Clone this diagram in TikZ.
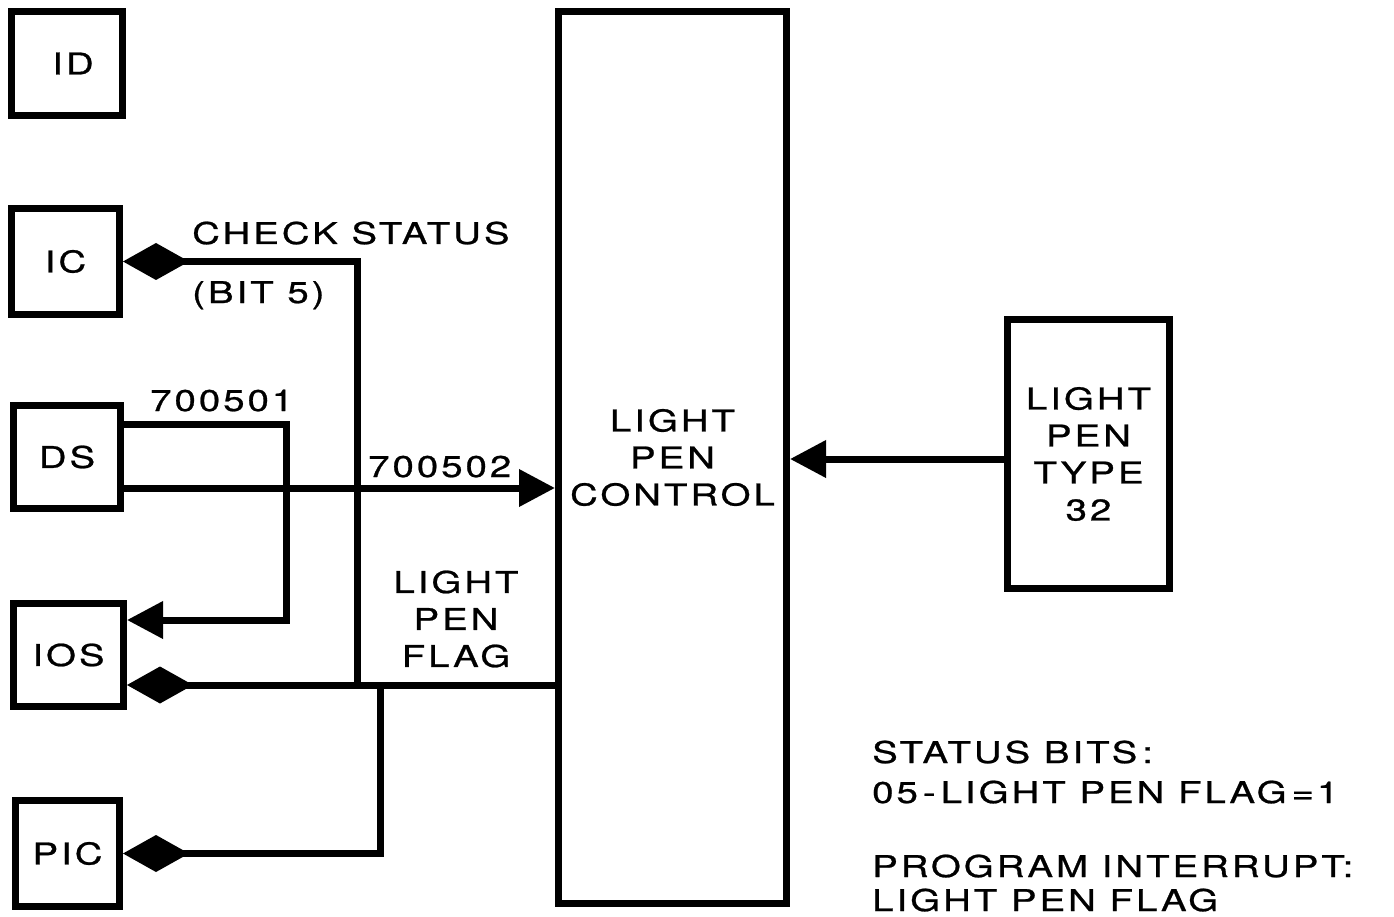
\documentclass[tikz,border=0pt]{standalone}
\usepackage{fontspec}
\setmainfont{TeX Gyre Heros}[FakeStretch=1.28, LetterSpace=10, FakeBold=0.8]
\usetikzlibrary{arrows.meta}
\newcommand{\lblfont}{\fontsize{30}{37}\selectfont}
\begin{document}
\begin{tikzpicture}[x=1pt,y=-1pt,
  box/.style={draw, line width=7pt, inner sep=0pt, font=\lblfont, align=center},
  lbl/.style={font=\lblfont, inner sep=0pt},
  wire/.style={line width=7pt, line join=miter},
  dia/.style={{Diamond[length=66pt,width=37pt]}-},
  tri/.style={-{Triangle[length=36pt,width=36pt]}}
]
\useasboundingbox (0,0) rectangle (1394,917);
% boxes
\node[box, minimum width=111pt, minimum height=104pt] (ID)  at (67,63.5)   {\hspace*{12pt}ID};
\node[box, minimum width=108pt, minimum height=106pt] (IC)  at (65.5,261.5) {IC};
\node[box, minimum width=107pt, minimum height=103pt] (DS)  at (67,457)    {DS};
\node[box, minimum width=110pt, minimum height=103pt] (IOS) at (68.5,655)  {IOS};
\node[box, minimum width=104pt, minimum height=106pt] (PIC) at (67.5,853.5) {PIC};
\node[box, minimum width=228pt, minimum height=892pt] (LPC) at (672.5,457.5) {LIGHT\\PEN\\CONTROL};
\node[box, minimum width=162pt, minimum height=269pt] (LP32) at (1088.5,454) {LIGHT\\PEN\\TYPE\\32};
% junctions and bends
\coordinate (jA) at (357,685);
\coordinate (jB) at (380,685);
\coordinate (b1) at (286,424);
\coordinate (b2) at (286,620);
% connectors
\draw[wire, dia] (IC.east) -| (jA);
\draw[wire, dia] ([yshift=-30pt]IOS.east) -- (jA -| LPC.west);
\draw[wire, dia] (PIC.east) -| (jB);
\draw[wire, tri] ([yshift=33pt]DS.east) -- (b1) -- (b2) -- ([yshift=35pt]IOS.east);
\draw[wire, tri] ([yshift=-31pt]DS.east) -- ([yshift=-31pt]DS.east -| LPC.west);
\draw[wire, tri] ([yshift=-5pt]LP32.west) -- ([yshift=-5pt]LP32.west -| LPC.east);
% labels
\node[lbl, anchor=base west] (cs)  at (192,244) {CHECK STATUS};
\node[lbl, anchor=base west] (bit) at (192,303) {(BIT 5)};
\node[lbl, anchor=base west] (n1)  at (150,411) {700501};
\node[lbl, anchor=base west] (n2)  at (368,477) {700502};
\node[lbl, align=center] (lpf) at (456,619) {LIGHT\\PEN\\FLAG};
\node[lbl, anchor=base west] (s1) at (872,763) {STATUS BITS\,:};
\node[lbl, anchor=base west] (s2) at (872,803) {05\,-\,LIGHT PEN FLAG\,=1};
\node[lbl, anchor=base west] (s3) at (872,877) {PROGRAM INTERRUPT:};
\node[lbl, anchor=base west] (s4) at (872,911) {LIGHT PEN FLAG};
\end{tikzpicture}
\end{document}
